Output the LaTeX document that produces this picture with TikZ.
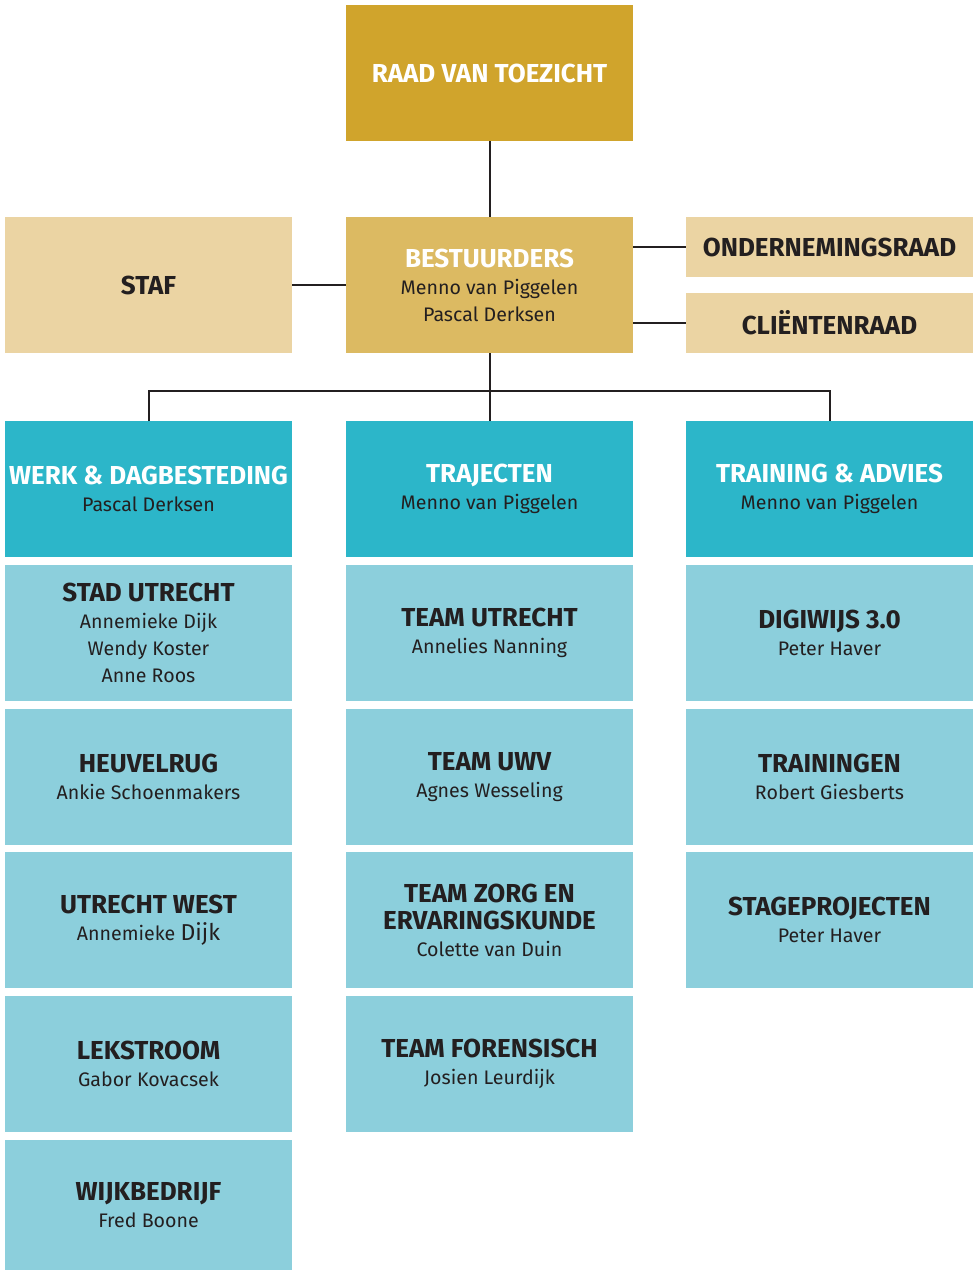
\documentclass[tikz,border=0pt]{standalone}
\usepackage{fontspec}
\setmainfont{Fira Sans}
\definecolor{gold}{HTML}{D0A42C}
\definecolor{goldmid}{HTML}{DCBA62}
\definecolor{goldlight}{HTML}{EBD4A3}
\definecolor{teal}{HTML}{2CB6C9}
\definecolor{teallight}{HTML}{8CCFDC}
\definecolor{ink}{HTML}{231F20}
\newcommand{\hd}[1]{{\bfseries\fontsize{26}{28}\selectfont #1}}
\begin{document}
\begin{tikzpicture}[x=1pt,y=-1pt,
  box/.style={minimum width=287pt, minimum height=136pt, inner sep=0pt, outer sep=0pt,
    align=center, anchor=north west, text=ink, font=\fontsize{19.6}{27}\selectfont},
  topbox/.style={box, fill=gold, text=white},
  midbox/.style={box, fill=goldmid},
  sidebox/.style={box, fill=goldlight},
  smallbox/.style={box, fill=goldlight, minimum height=60pt},
  headbox/.style={box, fill=teal},
  subbox/.style={box, fill=teallight},
  conn/.style={draw=ink, line width=2pt}]
\useasboundingbox (0,0) rectangle (979,1270);
% top
\node[topbox] (raad) at (346,5) {\hd{RAAD VAN TOEZICHT}};
\node[midbox] (best) at (346,217) {\textcolor{white}{\hd{BESTUURDERS}}\\Menno van Piggelen\\Pascal Derksen};
\node[sidebox] (staf) at (5,217) {\hd{STAF}};
\node[smallbox] (or) at (686,217) {\hd{ONDERNEMINGSRAAD}};
\node[smallbox] (cr) at (686,293) {\hd{CLIËNTENRAAD}};
% column heads
\node[headbox] (werk) at (5,421) {\textcolor{white}{\hd{WERK \& DAGBESTEDING}}\\Pascal Derksen};
\node[headbox] (traj) at (346,421) {\textcolor{white}{\hd{TRAJECTEN}}\\Menno van Piggelen};
\node[headbox] (trai) at (686,421) {\textcolor{white}{\hd{TRAINING \& ADVIES}}\\Menno van Piggelen};
% left column
\node[subbox] (stad) at (5,565) {\hd{STAD UTRECHT}\\Annemieke Dijk\\Wendy Koster\\Anne Roos};
\node[subbox] (heuv) at (5,709) {\hd{HEUVELRUG}\\Ankie Schoenmakers};
\node[subbox] (uw) at (5,852) {\hd{UTRECHT WEST}\\Annemieke {\fontsize{23}{27}\selectfont Dijk}};
\node[subbox] (lek) at (5,996) {\hd{LEKSTROOM}\\Gabor Kovacsek};
\node[subbox, minimum height=130pt] (wijk) at (5,1140) {\hd{WIJKBEDRIJF}\\Fred Boone};
% middle column
\node[subbox] (tu) at (346,565) {\hd{TEAM UTRECHT}\\Annelies Nanning};
\node[subbox] (tuwv) at (346,709) {\hd{TEAM UWV}\\Agnes Wesseling};
\node[subbox] (tz) at (346,852) {\hd{TEAM ZORG EN}\\\hd{ERVARINGSKUNDE}\\Colette van Duin};
\node[subbox] (tf) at (346,996) {\hd{TEAM FORENSISCH}\\Josien Leurdijk};
% right column
\node[subbox] (digi) at (686,565) {\hd{DIGIWIJS 3.0}\\Peter Haver};
\node[subbox] (trn) at (686,709) {\hd{TRAININGEN}\\Robert Giesberts};
\node[subbox] (stage) at (686,852) {\hd{STAGEPROJECTEN}\\Peter Haver};
% connectors
\draw[conn] (raad.south) -- (best.north);
\draw[conn] (staf.east) -- (best.west);
\draw[conn] (best.east |- or.west) -- (or.west);
\draw[conn] (best.east |- cr.west) -- (cr.west);
\draw[conn] (best.south) -- (traj.north);
\draw[conn] (werk.north) -- ++(0,-30) -| (trai.north);
\end{tikzpicture}
\end{document}
